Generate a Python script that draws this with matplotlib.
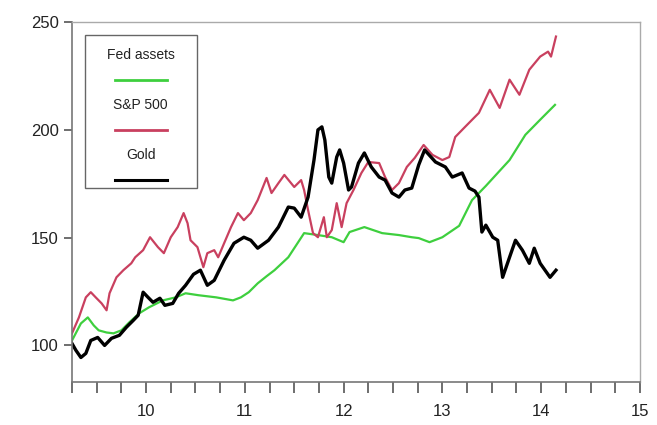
import matplotlib
matplotlib.use("Agg")
import matplotlib.pyplot as plt
from matplotlib.ticker import MultipleLocator

plt.rcParams['font.family'] = ['Liberation Sans', 'DejaVu Sans']

# index, start of series = 100; x in years (10 = 2010)
fed_x = [9.25, 9.34, 9.41, 9.47, 9.52, 9.60, 9.67, 9.75, 9.83, 9.93, 10.03, 10.17, 10.30,
         10.40, 10.53, 10.71, 10.88, 10.96, 11.04, 11.13, 11.22, 11.30, 11.44, 11.60, 11.74,
         11.88, 12.00, 12.06, 12.21, 12.39, 12.56, 12.69, 12.76, 12.87, 13.00, 13.17, 13.30,
         13.44, 13.56, 13.68, 13.84, 13.99, 14.14]
fed_y = [102.3, 110.2, 113.0, 109.3, 107.0, 106.0, 105.6, 107.0, 110.7, 114.9, 117.7, 120.9, 122.3,
         124.2, 123.3, 122.3, 120.9, 122.3, 124.7, 128.8, 132.1, 134.9, 140.9, 152.1, 151.2,
         150.2, 147.9, 152.6, 154.9, 152.1, 151.2, 150.2, 149.8, 147.9, 150.2, 155.5, 167.4,
         174.0, 180.0, 186.0, 197.7, 204.7, 211.6]

spx_x = [9.25, 9.32, 9.39, 9.44, 9.49, 9.55, 9.60, 9.63, 9.70, 9.77, 9.85, 9.89, 9.97, 10.04,
         10.12, 10.18, 10.25, 10.32, 10.38, 10.42, 10.45, 10.52, 10.58, 10.62, 10.69, 10.73,
         10.79, 10.86, 10.93, 10.99, 11.06, 11.13, 11.22, 11.27, 11.34, 11.40, 11.50, 11.57,
         11.60, 11.64, 11.69, 11.74, 11.80, 11.83, 11.88, 11.93, 11.98, 12.03, 12.10, 12.18,
         12.25, 12.36, 12.42, 12.49, 12.56, 12.64, 12.72, 12.81, 12.90, 13.00, 13.07, 13.13,
         13.23, 13.37, 13.48, 13.58, 13.68, 13.78, 13.88, 13.99, 14.07, 14.10, 14.15]
spx_y = [105.6, 113.0, 122.3, 124.7, 122.3, 119.5, 116.3, 124.2, 131.6, 134.9, 138.1, 140.9, 144.2, 150.2,
         145.6, 142.8, 150.2, 154.9, 161.4, 156.7, 148.8, 145.6, 136.3, 142.8, 144.2, 140.9,
         147.4, 154.9, 161.4, 158.1, 161.4, 167.4, 177.7, 170.7, 175.3, 179.1, 173.5, 176.7,
         172.1, 162.8, 152.1, 150.2, 159.5, 150.2, 153.5, 166.0, 154.9, 166.0, 172.1, 180.0,
         185.1, 184.6, 178.1, 172.1, 175.3, 182.8, 187.0, 193.0, 188.4, 186.0, 187.4, 196.7,
         201.4, 207.9, 218.6, 210.2, 223.3, 216.3, 227.9, 234.0, 236.3, 234.0, 243.3]

gold_x = [9.25, 9.29, 9.34, 9.39, 9.44, 9.51, 9.58, 9.65, 9.73, 9.80, 9.87, 9.92, 9.97, 10.02,
          10.07, 10.14, 10.19, 10.27, 10.33, 10.40, 10.48, 10.55, 10.62, 10.69, 10.79, 10.89,
          10.99, 11.06, 11.13, 11.24, 11.34, 11.44, 11.50, 11.57, 11.64, 11.70, 11.74, 11.78,
          11.81, 11.85, 11.88, 11.93, 11.96, 12.00, 12.05, 12.08, 12.15, 12.21, 12.28, 12.36,
          12.42, 12.49, 12.56, 12.62, 12.69, 12.76, 12.82, 12.93, 13.03, 13.10, 13.20, 13.27,
          13.33, 13.37, 13.40, 13.44, 13.51, 13.56, 13.61, 13.68, 13.74, 13.81, 13.88, 13.93,
          13.99, 14.09, 14.15]
gold_y = [100.9, 97.7, 94.4, 96.3, 102.3, 103.7, 100.0, 103.3, 104.7, 108.4, 111.6, 114.0, 124.7, 122.3,
          120.0, 121.9, 118.6, 119.5, 124.2, 127.9, 133.0, 134.9, 127.9, 130.2, 139.5, 147.4,
          150.2, 148.8, 145.1, 148.8, 154.9, 164.2, 163.7, 159.5, 168.8, 186.0, 200.0, 201.4,
          195.3, 178.1, 175.3, 187.4, 190.7, 184.6, 172.1, 173.5, 184.6, 189.3, 182.8, 178.1,
          176.7, 170.7, 168.8, 172.1, 173.0, 183.7, 190.7, 185.1, 182.8, 178.1, 180.0, 173.0,
          171.6, 168.8, 152.6, 155.8, 150.2, 148.8, 131.6, 140.9, 148.8, 144.2, 138.1, 145.1,
          138.1, 131.6, 134.9]

labels = ["Fed assets", "S&P 500", "Gold"]
colors = ["#3ecf3e", "#c9405f", "black"]

fig = plt.figure(figsize=(6.57, 4.25), dpi=100)
ax = fig.add_axes([0.1096, 0.101, 0.8644, 0.847])

ax.plot(fed_x, fed_y, color=colors[0], lw=1.6)
ax.plot(spx_x, spx_y, color=colors[1], lw=1.6)
ax.plot(gold_x, gold_y, color=colors[2], lw=2.4)

ax.set_xlim(9.25, 15)
ax.set_ylim(83, 250)
ax.xaxis.set_major_locator(MultipleLocator(1))
ax.xaxis.set_minor_locator(MultipleLocator(0.25))
ax.yaxis.set_major_locator(MultipleLocator(50))
ax.tick_params(axis='x', which='both', direction='out', length=8, width=1.2,
               color='#555555', labelsize=12, pad=8, labelcolor='#222222')
ax.tick_params(axis='y', which='major', direction='out', length=6, width=1.2,
               color='#555555', labelsize=12, labelcolor='#222222')
for side in ['left', 'bottom']:
    ax.spines[side].set_color('#777777')
    ax.spines[side].set_linewidth(1.2)
for side in ['top', 'right']:
    ax.spines[side].set_color('#aaaaaa')
    ax.spines[side].set_linewidth(1.0)

# legend box, label above each line sample
tr = ax.transAxes
ax.add_patch(plt.Rectangle((0.023, 0.539), 0.197, 0.425, transform=tr,
                           fill=False, edgecolor='#666666', lw=1.0))
for i, (lab, col) in enumerate(zip(labels, colors)):
    ty = 0.908 - i * 0.139
    ax.text(0.121, ty, lab, transform=tr, ha='center', va='center', fontsize=10, color='#222222')
    ax.plot([0.076, 0.167], [ty - 0.068, ty - 0.068], transform=tr, color=col,
            lw=2.2 if col == 'black' else 2.0)

fig.savefig("out.png", dpi=100)
